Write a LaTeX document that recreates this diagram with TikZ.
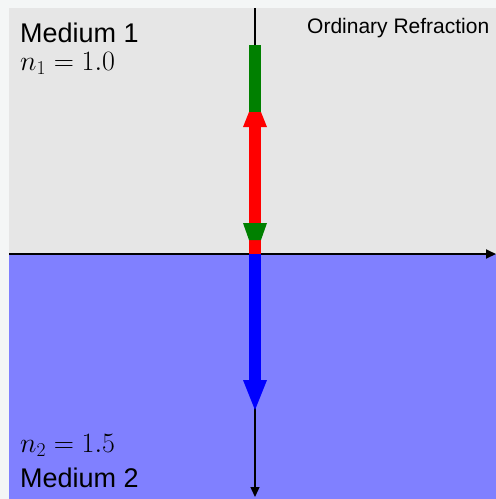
\RequirePackage{fix-cm}
\documentclass[tikz,border=0pt]{standalone}
\usepackage{fontspec}
\setsansfont{Liberation Sans}
\usetikzlibrary{arrows.meta, positioning}
\definecolor{rimbg}{RGB}{244,246,246}
\definecolor{upper}{RGB}{230,230,230}
\definecolor{lower}{RGB}{128,128,255}
\definecolor{incid}{RGB}{0,128,0}
\definecolor{refl}{RGB}{255,0,0}
\definecolor{trans}{RGB}{0,0,255}

\begin{document}
\begin{tikzpicture}[
  x=1pt, y=-1pt,
  medium/.style={font=\sffamily\fontsize{27}{30}\selectfont, anchor=base west, inner sep=0pt},
  index/.style={font=\fontsize{28}{32}\selectfont, anchor=base west, inner sep=0pt},
  title/.style={font=\sffamily\fontsize{21}{24}\selectfont, anchor=base west, inner sep=0pt},
  axis/.style={black, -{Triangle[length=10pt, width=9pt]}},
  ray/.style={line width=12pt},
]
\useasboundingbox (0,0) rectangle (496,499);
\fill[rimbg] (0,0) rectangle (496,499);
\fill[upper] (9,8) rectangle (496,254);
\fill[lower] (9,254) rectangle (496,499);

\coordinate (top) at (255,8);
\coordinate (hit) at (255,254);
\coordinate (bot) at (255,497);
\coordinate (left) at (9,254);
\coordinate (right) at (496,254);

% interface and normal
\draw[axis, line width=2pt] (left) -- (right);
\draw[axis, line width=1.3pt] (top) -- (bot);

% reflected ray
\fill[refl] (243,127) -- (267,127) -- (255,97) -- cycle;
\draw[ray, incid] (255,45) -- (255,112);
\draw[ray, refl] (255,127) -- (hit);
% incident ray head
\fill[incid] (243,223) -- (267,223) -- (261,240) -- (249,240) -- cycle;
% transmitted ray
\draw[ray, trans] (hit) -- (255,380);
\fill[trans] (243,380) -- (267,380) -- (255,410) -- cycle;

\node[medium] (m1) at (20,42) {Medium 1};
\node[index] (n1) at (20,70) {$n_1 = 1.0$};
\node[title] (ttl) at (307,33) {Ordinary Refraction};
\node[index] (n2) at (20,452) {$n_2 = 1.5$};
\node[medium] (m2) at (20,487) {Medium 2};
\end{tikzpicture}
\end{document}
